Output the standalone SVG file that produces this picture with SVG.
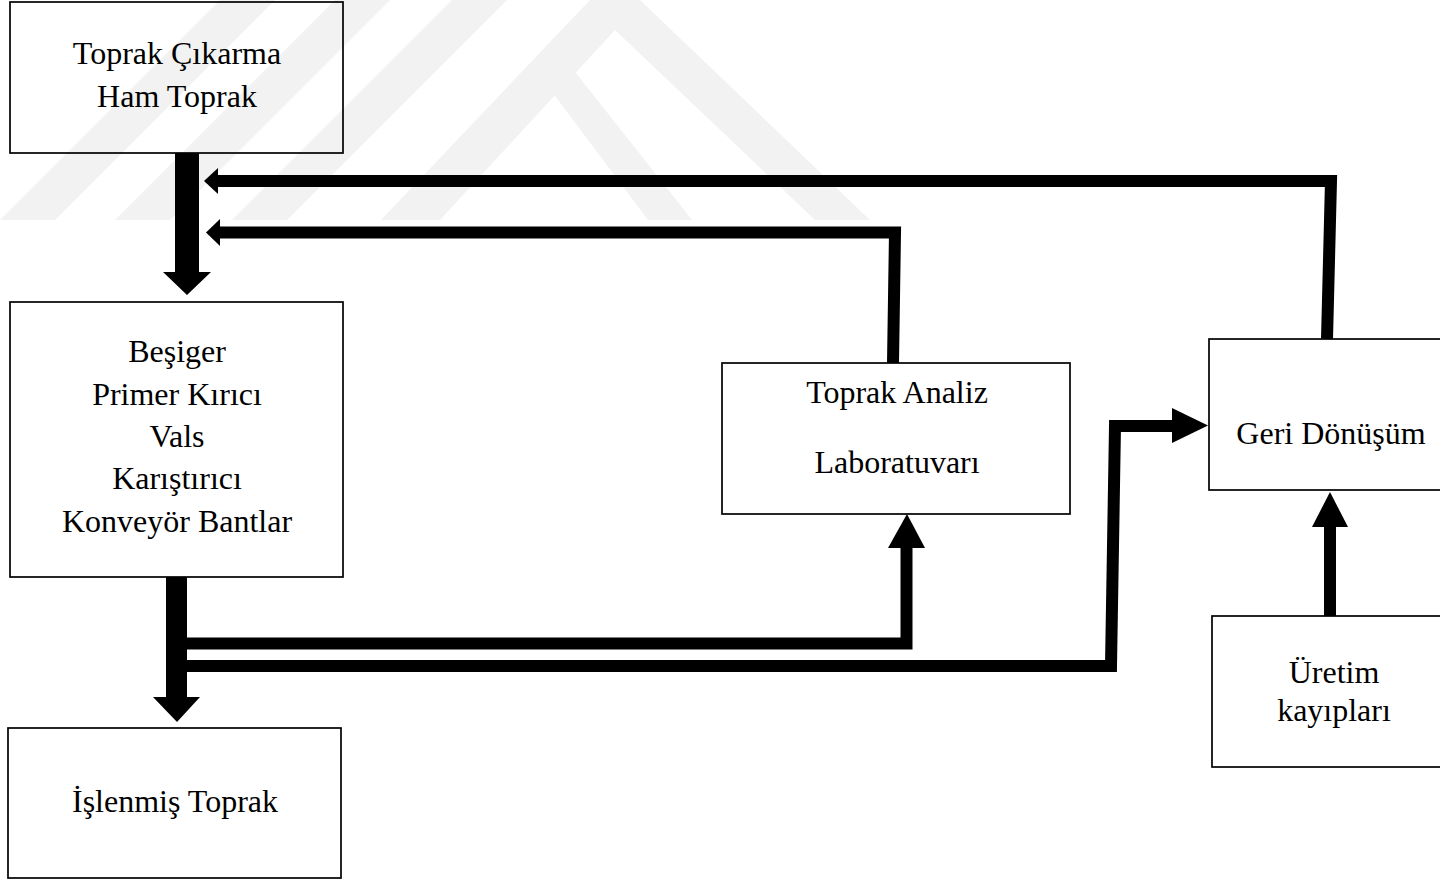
<svg xmlns="http://www.w3.org/2000/svg" width="1440" height="880" viewBox="0 0 1440 880">
  <style>
    .wm { fill: #f2f2f2; stroke: none; }
    .box { fill: none; stroke: #000; stroke-width: 1.7; }
    .lbl { font-family: "Liberation Serif", "Times New Roman", serif; font-size: 32px; fill: #000; text-anchor: middle; }
    .ln { fill: none; stroke: #000; stroke-width: 12; stroke-linejoin: miter; }
    .hd { fill: #000; stroke: none; }
  </style>
  <rect x="0" y="0" width="1440" height="880" fill="#fff"/>
  <g id="watermark">
    <polygon class="wm" points="0,220 55,220 275,0 220,0"/>
    <polygon class="wm" points="115,220 170,220 390,0 335,0"/>
    <polygon class="wm" points="232,220 287,220 507,0 452,0"/>
    <polygon class="wm" points="381,220 590,0 640,0 870,220 815,220 615,30 440,220"/>
    <polygon class="wm" points="552,92 572,68 692,220 648,220"/>
  </g>
  <g id="connectors">
    <polygon class="hd" points="175,153 199,153 199,272 211,272 187,295 163,272 175,272"/>
    <polygon class="hd" points="166,577 187,577 187,697 200,697 177,722 153,697 166,697"/>
    <path class="ln" d="M187,643.5 L906.5,643.5 L906.5,548"/>
    <polygon class="hd" points="888,548 925,548 907,514"/>
    <path class="ln" d="M187,666 L1111,666 L1115,426 L1172,426"/>
    <polygon class="hd" points="1172,408 1208,425.5 1172,443"/>
    <path class="ln" d="M1327,339 L1331,181 L218,181"/>
    <polygon class="hd" points="218,168 204,181 218,194"/>
    <path class="ln" d="M893,363 L895,232.5 L220,232.5"/>
    <polygon class="hd" points="220,219 206,232.5 220,246"/>
    <path class="ln" d="M1330,616 L1330,526"/>
    <polygon class="hd" points="1312,527 1348,527 1330,492"/>
  </g>
  <g id="node-cikarma">
    <rect class="box" x="10" y="2" width="333" height="151"/>
    <text class="lbl" x="177" y="64">Toprak Çıkarma</text>
    <text class="lbl" x="177" y="107">Ham Toprak</text>
  </g>
  <g id="node-isleme">
    <rect class="box" x="10" y="302" width="333" height="275"/>
    <text class="lbl" x="177" y="362">Beşiger</text>
    <text class="lbl" x="177" y="405">Primer Kırıcı</text>
    <text class="lbl" x="177" y="447">Vals</text>
    <text class="lbl" x="177" y="489">Karıştırıcı</text>
    <text class="lbl" x="177" y="532">Konveyör Bantlar</text>
  </g>
  <g id="node-islenmis">
    <rect class="box" x="8" y="728" width="333" height="150"/>
    <text class="lbl" x="175" y="812">İşlenmiş Toprak</text>
  </g>
  <g id="node-analiz">
    <rect class="box" x="722" y="363" width="348" height="151"/>
    <text class="lbl" x="897" y="403">Toprak Analiz</text>
    <text class="lbl" x="897" y="473">Laboratuvarı</text>
  </g>
  <g id="node-geri">
    <rect class="box" x="1209" y="339" width="246" height="151"/>
    <text class="lbl" x="1331" y="444">Geri Dönüşüm</text>
  </g>
  <g id="node-uretim">
    <rect class="box" x="1212" y="616" width="244" height="151"/>
    <text class="lbl" x="1334" y="683">Üretim</text>
    <text class="lbl" x="1334" y="721">kayıpları</text>
  </g>
</svg>
